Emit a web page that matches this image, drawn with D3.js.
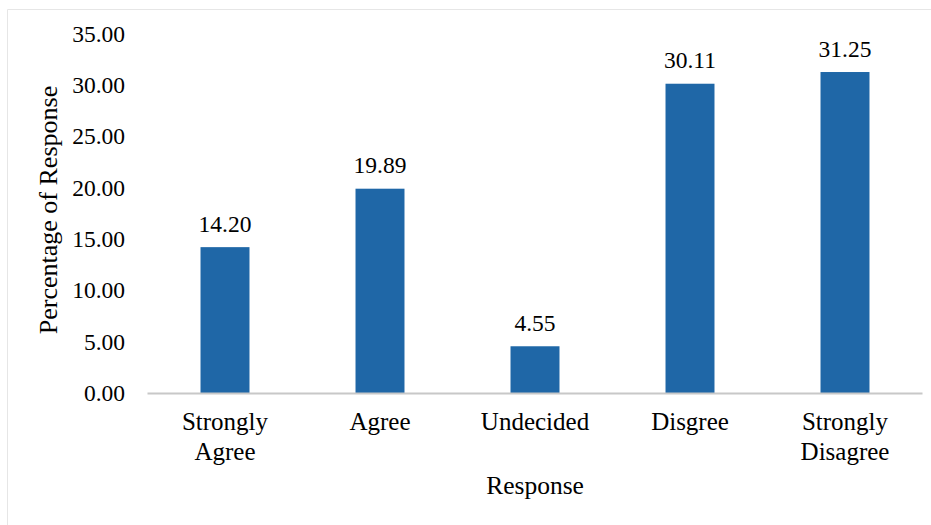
<!DOCTYPE html>
<html>
<head>
<meta charset="utf-8">
<script src="https://cdn.jsdelivr.net/npm/d3@7"></script>
<style>
  body { margin: 0; background: #fff; }
</style>
</head>
<body>
<div id="chart"></div>
<script>
// data
let categories = [["Strongly", "Agree"], ["Agree"], ["Undecided"], ["Disgree"], ["Strongly", "Disagree"]];
let values = [14.20, 19.89, 4.55, 30.11, 31.25];
let yTicks = [0, 5, 10, 15, 20, 25, 30, 35];

let width = 931, height = 525;
let margin = {top: 33.5, right: 8.5, bottom: 132, left: 147.5};
let plot_w = width - margin.left - margin.right;
let plot_h = height - margin.top - margin.bottom;
let serif = "'Liberation Serif'";

let svg = d3.select("#chart").append("svg")
    .attr("width", width)
    .attr("height", height);

// faint frame round the chart (only top and left show in the picture)
svg.append("path")
    .attr("d", "M7.5," + height + "V9.5H" + width)
    .attr("fill", "none")
    .attr("stroke", "#e6e6e6")
    .attr("stroke-width", 1);

let g = svg.append("g")
    .attr("transform", "translate(" + margin.left + "," + margin.top + ")");

let x = d3.scaleBand()
    .domain(d3.range(values.length))
    .range([0, plot_w])
    .paddingInner(0.684)
    .paddingOuter(0.342);

let y = d3.scaleLinear()
    .domain([0, 35])
    .range([plot_h, 0]);

// y axis: labels only
let yAxis = g.append("g")
    .call(d3.axisLeft(y).tickValues(yTicks).tickFormat(d3.format(".2f")).tickSize(0).tickPadding(22.5));
yAxis.select(".domain").remove();
yAxis.selectAll("text")
    .style("font-family", serif)
    .style("font-size", "23.5px")
    .attr("fill", "#000");

// bars
g.selectAll("rect.bar")
    .data(values)
    .enter().append("rect")
    .attr("class", "bar")
    .attr("x", (d, i) => x(i))
    .attr("y", d => y(d))
    .attr("width", x.bandwidth())
    .attr("height", d => plot_h - y(d))
    .attr("fill", "#1f67a7");

// x axis line
g.append("line")
    .attr("x1", 0).attr("x2", plot_w)
    .attr("y1", plot_h + 0.5).attr("y2", plot_h + 0.5)
    .attr("stroke", "#c8c8c8")
    .attr("stroke-width", 2);

// value labels
g.selectAll("text.val")
    .data(values)
    .enter().append("text")
    .attr("class", "val")
    .attr("x", (d, i) => x(i) + x.bandwidth() / 2)
    .attr("y", d => y(d) - 15.5)
    .attr("text-anchor", "middle")
    .style("font-family", serif)
    .style("font-size", "23.5px")
    .text(d => d.toFixed(2));

// category labels
let cats = g.selectAll("text.cat")
    .data(categories)
    .enter().append("text")
    .attr("class", "cat")
    .attr("text-anchor", "middle")
    .attr("transform", (d, i) => "translate(" + (x(i) + x.bandwidth() / 2) + "," + (plot_h + 36.5) + ")")
    .style("font-family", serif)
    .style("font-size", "25px");
cats.selectAll("tspan")
    .data(d => d)
    .enter().append("tspan")
    .attr("x", 0)
    .attr("dy", (d, i) => i === 0 ? 0 : 30)
    .text(d => d);

// axis titles
svg.append("text")
    .attr("x", 535)
    .attr("y", 494)
    .attr("text-anchor", "middle")
    .style("font-family", serif)
    .style("font-size", "25.5px")
    .text("Response");

svg.append("text")
    .attr("transform", "translate(57,210) rotate(-90)")
    .attr("text-anchor", "middle")
    .style("font-family", serif)
    .style("font-size", "26px")
    .text("Percentage of Response");
</script>
</body>
</html>
